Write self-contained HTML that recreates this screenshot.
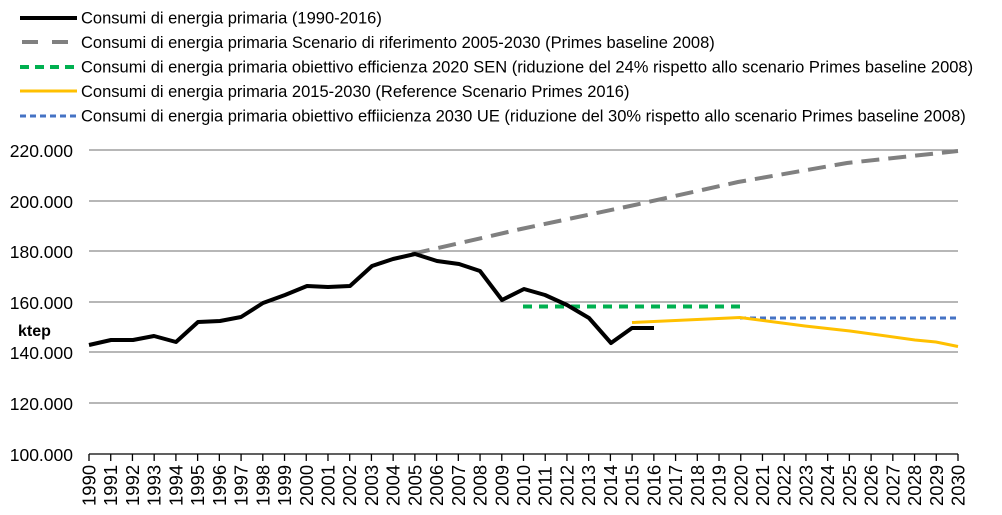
<!DOCTYPE html>
<html><head><meta charset="utf-8"><style>
body{margin:0;background:#fff;}
svg{display:block;font-family:"Liberation Sans",Arial,sans-serif;}
</style></head><body>
<svg width="1002" height="515" viewBox="0 0 1002 515">
<g font-size="16.5" fill="#000">
<line x1="20" y1="18" x2="77" y2="18" stroke="#000" stroke-width="4"/>
<text x="81" y="23.5">Consumi di energia primaria (1990-2016)</text>
<line x1="22" y1="42" x2="77" y2="42" stroke="#808080" stroke-width="4" stroke-dasharray="16,14"/>
<text x="81" y="48">Consumi di energia primaria Scenario di riferimento 2005-2030  (Primes baseline 2008)</text>
<line x1="20" y1="67" x2="77" y2="67" stroke="#00b050" stroke-width="4" stroke-dasharray="9,6"/>
<text x="81" y="72.5">Consumi di energia primaria obiettivo efficienza 2020 SEN (riduzione del 24% rispetto allo scenario Primes baseline 2008)</text>
<line x1="20" y1="91" x2="77" y2="91" stroke="#ffc000" stroke-width="3"/>
<text x="81" y="97">Consumi di energia primaria 2015-2030  (Reference Scenario Primes 2016)</text>
<line x1="20" y1="116" x2="77" y2="116" stroke="#4472c4" stroke-width="3" stroke-dasharray="6,4"/>
<text x="81" y="121.5">Consumi di energia primaria obiettivo effiicienza 2030 UE (riduzione del 30% rispetto allo scenario Primes baseline 2008)</text>
</g>
<g stroke="#8c8c8c" stroke-width="1.3">
<line x1="89" y1="150" x2="958" y2="150"/>
<line x1="89" y1="201" x2="958" y2="201"/>
<line x1="89" y1="251" x2="958" y2="251"/>
<line x1="89" y1="302" x2="958" y2="302"/>
<line x1="89" y1="352" x2="958" y2="352"/>
<line x1="89" y1="403" x2="958" y2="403"/>
</g>
<line x1="89" y1="454" x2="958" y2="454" stroke="#000" stroke-width="1.3"/>
<g font-size="17.5" text-anchor="end" fill="#000">
<text x="73" y="157">220.000</text>
<text x="73" y="208">200.000</text>
<text x="73" y="258">180.000</text>
<text x="73" y="309">160.000</text>
<text x="73" y="359">140.000</text>
<text x="73" y="410">120.000</text>
<text x="73" y="461">100.000</text>
</g>
<text x="18" y="336" font-size="16" font-weight="bold">ktep</text>
<g id="ticks" stroke="#000" stroke-width="1.3"></g>
<g id="labels" font-size="18.5"></g>
<polyline fill="none" stroke="#808080" stroke-width="4" stroke-dasharray="18,9" points="412,254 521,229 630,206 738,182 847,163 958,151"/>
<polyline fill="none" stroke="#00b050" stroke-width="4" stroke-dasharray="9,7" points="523,306.5 742,306.5"/>
<polyline fill="none" stroke="#4472c4" stroke-width="3" stroke-dasharray="6,4" points="740,318 958,318"/>
<polyline fill="none" stroke="#ffc000" stroke-width="3" points="632,322.5 740,317.5 805,326 850,331 915,340 936,342 958,346.5"/>
<polyline fill="none" stroke="#000" stroke-width="4" stroke-linejoin="round" points="89,345 111,340 133,340 154,336 176,342 198,322 220,321 241,317 263,303 285,295 307,286 328,287 350,286 372,266 393,259 415,254 437,261 459,264 480,271 502,300 524,289 545,295 567,305 589,318 611,343 632,328 654,328"/>
<script>
(function(){var t=document.getElementById('ticks'),l=document.getElementById('labels'),ns='http://www.w3.org/2000/svg';
for(var i=0;i<=40;i++){var x=89+i*21.725;var ln=document.createElementNS(ns,'line');ln.setAttribute('x1',x);ln.setAttribute('x2',x);ln.setAttribute('y1',454);ln.setAttribute('y2',461);t.appendChild(ln);
var tx=document.createElementNS(ns,'text');tx.setAttribute('transform','translate('+(x+6.5)+',506) rotate(-90)');tx.textContent=1990+i;l.appendChild(tx);}})();
</script>
</svg>
</body></html>
